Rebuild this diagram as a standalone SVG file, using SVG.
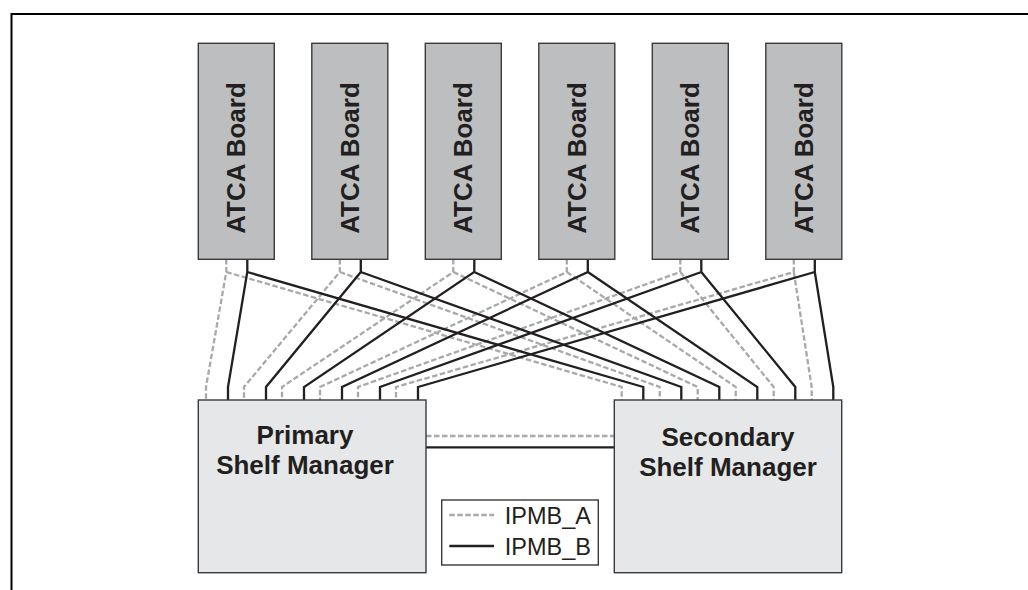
<svg xmlns="http://www.w3.org/2000/svg" width="1028" height="590" viewBox="0 0 1028 590">
<style>
.board{fill:#bcbec0;stroke:#3a3a3c;stroke-width:1.4}
.mgr{fill:#e6e7e8;stroke:#3a3a3c;stroke-width:1.4}
.lbl{font-family:"Liberation Sans",Arial,sans-serif;font-weight:bold;font-size:26px;fill:#231f20;text-anchor:middle}
.leg{font-family:"Liberation Sans",Arial,sans-serif;font-size:23.5px;fill:#231f20}
.a{fill:none;stroke:#a7a9ac;stroke-width:2.3;stroke-dasharray:5.5 2.5}
.b{fill:none;stroke:#231f20;stroke-width:2.3}
</style>
<rect x="0" y="0" width="1028" height="590" fill="#fff"/>
<path d="M11.5,590 V14 H1028" fill="none" stroke="#000" stroke-width="2"/>

<g id="connectors">
<g id="ipmb-a">
<path class="a" d="M226.3,259 V272 L206,387 V400 M226.3,272 L621.7,387 V400"/>
<path class="a" d="M339.8,259 V272 L244,387 V400 M339.8,272 L659.7,387 V400"/>
<path class="a" d="M453.3,259 V272 L282,387 V400 M453.3,272 L697.7,387 V400"/>
<path class="a" d="M566.8,259 V272 L320,387 V400 M566.8,272 L735.7,387 V400"/>
<path class="a" d="M680.3,259 V272 L358,387 V400 M680.3,272 L773.7,387 V400"/>
<path class="a" d="M793.8,259 V272 L396,387 V400 M793.8,272 L811.7,387 V400"/>
<path class="a" d="M426,436 H614"/>
</g>
<g id="ipmb-b">
<path class="b" d="M247.3,259 V272 L228,387 V400 M247.3,272 L643.3,387 V400"/>
<path class="b" d="M360.8,259 V272 L266,387 V400 M360.8,272 L681.3,387 V400"/>
<path class="b" d="M474.3,259 V272 L304,387 V400 M474.3,272 L719.3,387 V400"/>
<path class="b" d="M587.8,259 V272 L342,387 V400 M587.8,272 L757.3,387 V400"/>
<path class="b" d="M701.3,259 V272 L380,387 V400 M701.3,272 L795.3,387 V400"/>
<path class="b" d="M814.8,259 V272 L418,387 V400 M814.8,272 L833.3,387 V400"/>
<path class="b" d="M426,447.3 H614"/>
</g>
</g>

<g id="board1"><rect class="board" x="198.3" y="43.3" width="76" height="216"/><text class="lbl" transform="translate(245.3,158) rotate(-90)">ATCA Board</text></g>
<g id="board2"><rect class="board" x="311.8" y="43.3" width="76" height="216"/><text class="lbl" transform="translate(358.8,158) rotate(-90)">ATCA Board</text></g>
<g id="board3"><rect class="board" x="425.3" y="43.3" width="76" height="216"/><text class="lbl" transform="translate(472.3,158) rotate(-90)">ATCA Board</text></g>
<g id="board4"><rect class="board" x="538.8" y="43.3" width="76" height="216"/><text class="lbl" transform="translate(585.8,158) rotate(-90)">ATCA Board</text></g>
<g id="board5"><rect class="board" x="652.3" y="43.3" width="76" height="216"/><text class="lbl" transform="translate(699.3,158) rotate(-90)">ATCA Board</text></g>
<g id="board6"><rect class="board" x="765.8" y="43.3" width="76" height="216"/><text class="lbl" transform="translate(812.8,158) rotate(-90)">ATCA Board</text></g>

<g id="primary"><rect class="mgr" x="198.3" y="400" width="227.7" height="172.7"/><text class="lbl" x="305" y="444">Primary</text><text class="lbl" x="305" y="474">Shelf Manager</text></g>
<g id="secondary"><rect class="mgr" x="614.3" y="400" width="227.4" height="172.7"/><text class="lbl" x="728" y="446">Secondary</text><text class="lbl" x="728" y="476">Shelf Manager</text></g>

<g id="legend">
<rect x="441.7" y="500" width="156.6" height="65" fill="#fff" stroke="#3a3a3c" stroke-width="1.4"/>
<path class="a" d="M449.3,515 H494"/>
<path class="b" d="M449.3,546 H494"/>
<text class="leg" x="504.7" y="523.5">IPMB_A</text>
<text class="leg" x="504.7" y="555">IPMB_B</text>
</g>
</svg>
